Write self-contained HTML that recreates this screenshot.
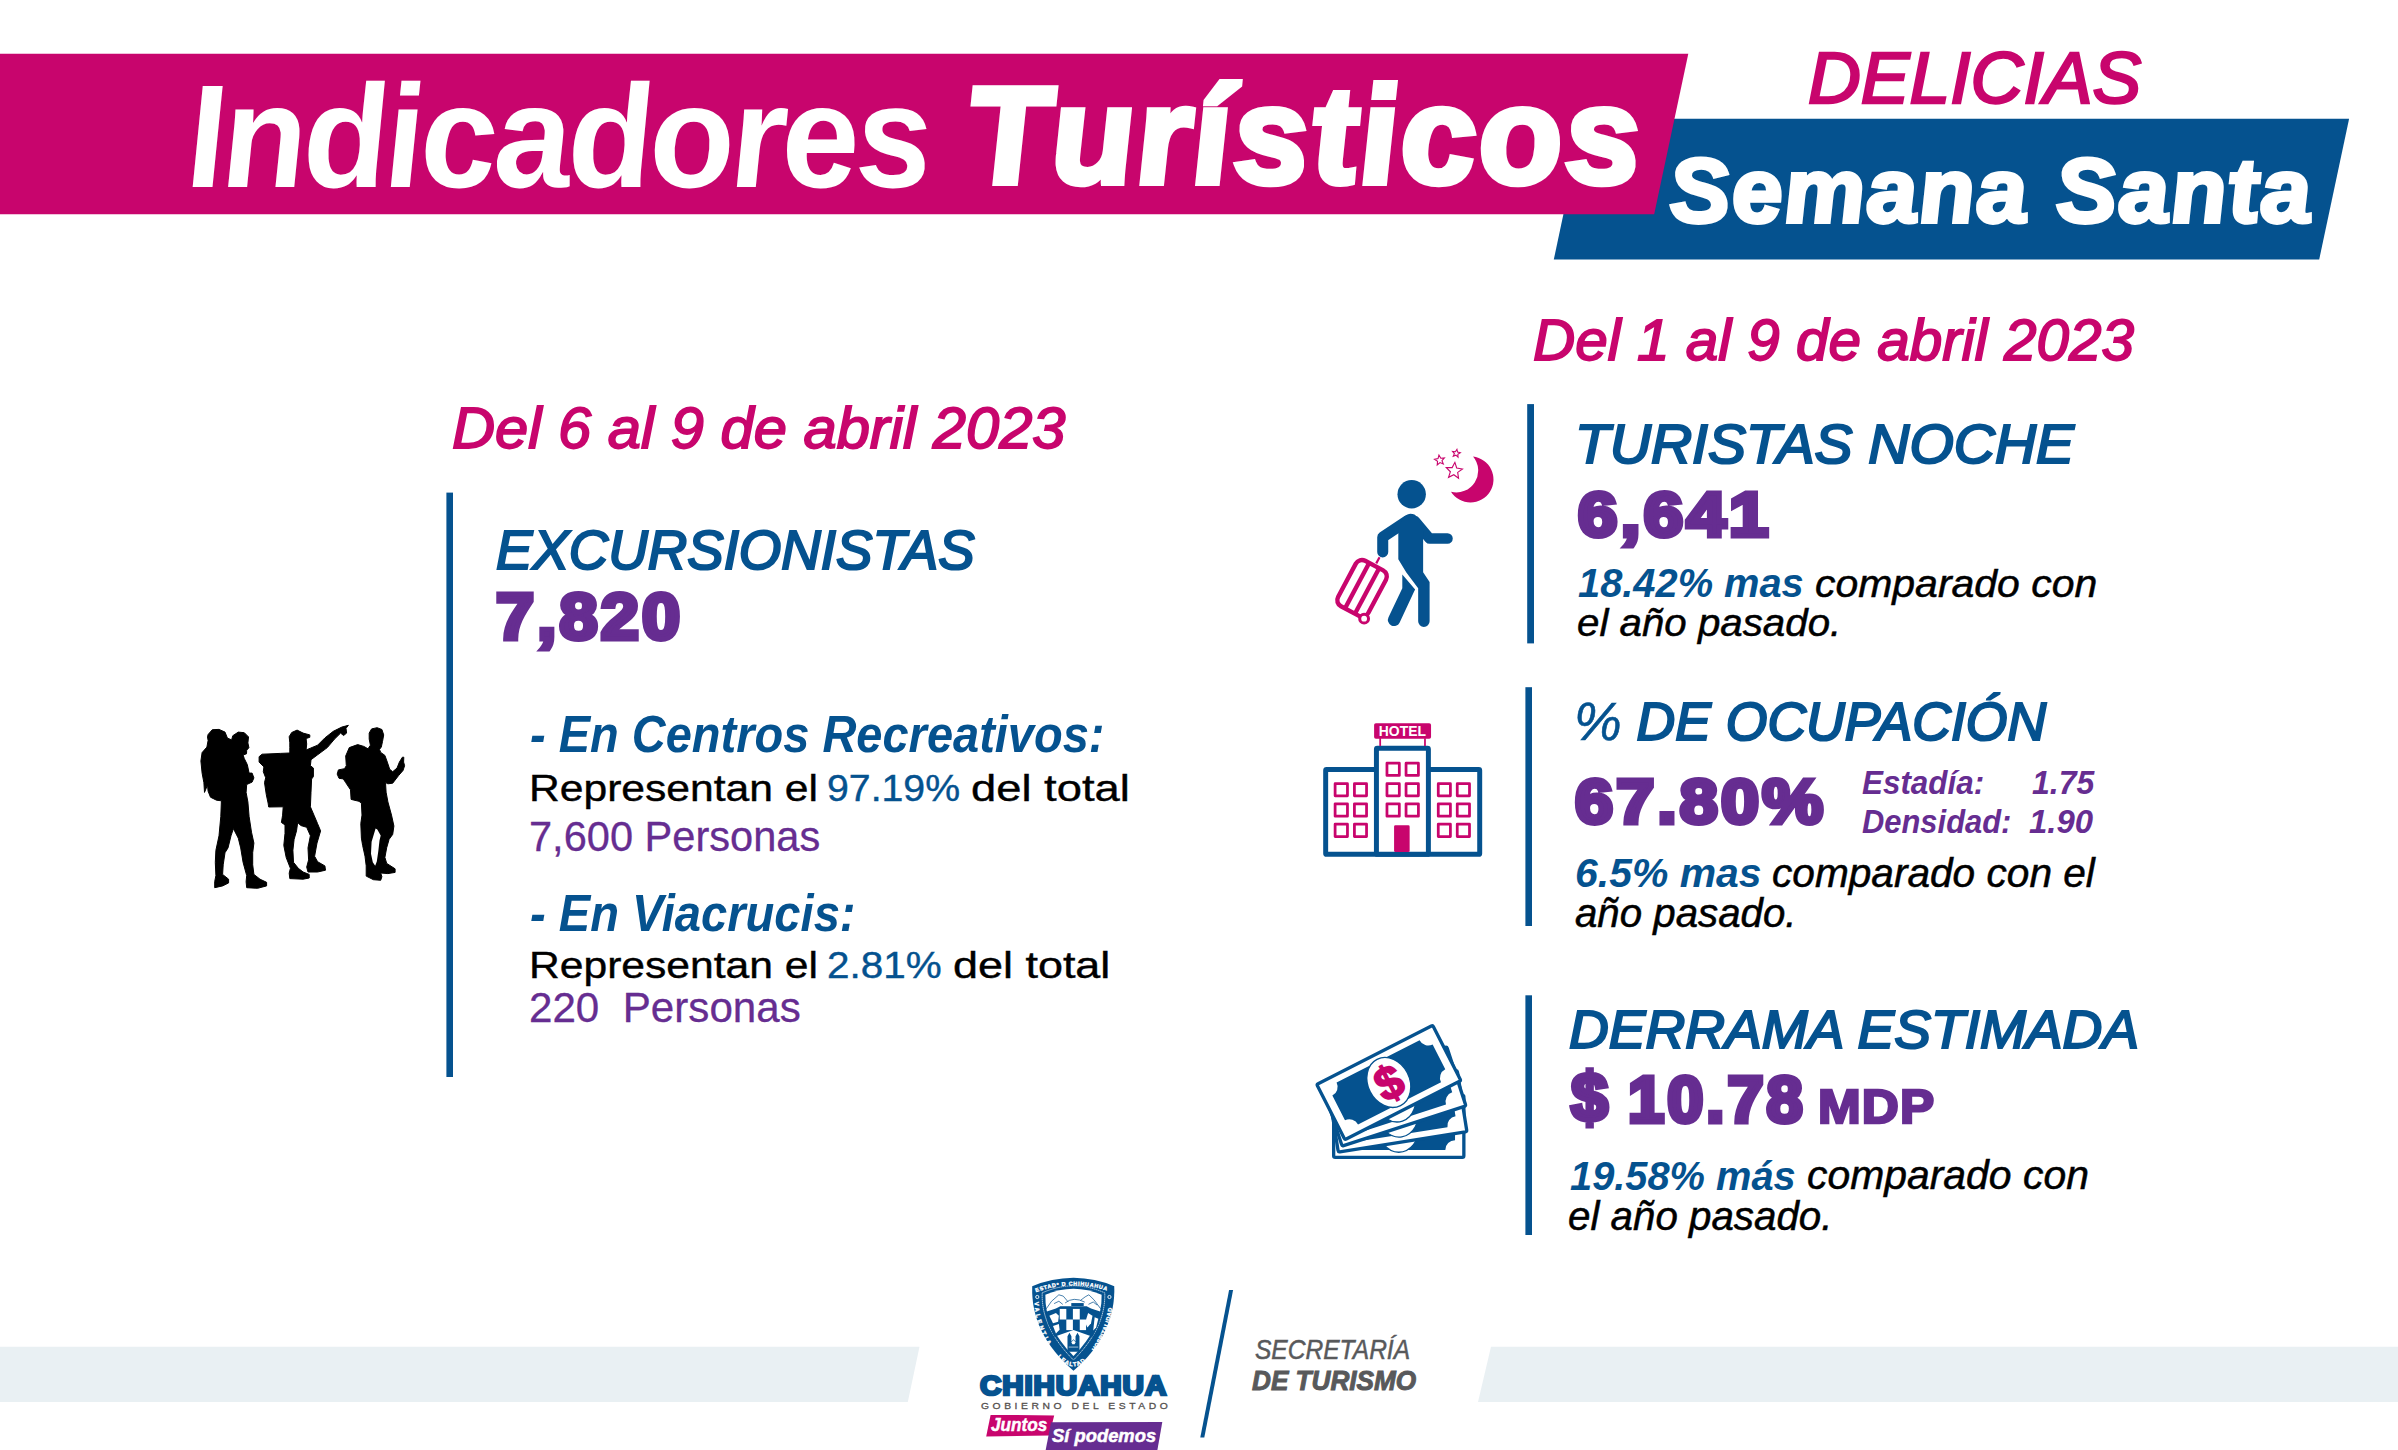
<!DOCTYPE html>
<html lang="es"><head><meta charset="utf-8"><title>Indicadores Turísticos - Delicias - Semana Santa</title>
<style>
html,body{margin:0;padding:0;background:#fff;}
body{width:2398px;height:1450px;position:relative;overflow:hidden;font-family:"Liberation Sans",sans-serif;}
.t{position:absolute;line-height:1;white-space:nowrap;transform-origin:0 0;}
.abs{position:absolute;}
svg{position:absolute;left:0;top:0;overflow:visible;}
</style></head><body>
<svg width="2398" height="1450" viewBox="0 0 2398 1450">
<polygon points="1583.7,118.8 2349.1,118.8 2319.2,259.5 1553.8,259.5" fill="#05528f"/>
<polygon points="0,53.8 1688.3,53.8 1654.2,214.2 0,214.2" fill="#c8056d"/>
<rect x="446.4" y="492.6" width="6.6" height="584.4" fill="#05528f"/>
<rect x="1527.2" y="404.1" width="6.8" height="239.3" fill="#05528f"/>
<rect x="1525.4" y="687.2" width="6.6" height="238.8" fill="#05528f"/>
<rect x="1525.4" y="995.3" width="6.6" height="239.7" fill="#05528f"/>
<polygon points="0,1346.8 919.5,1346.8 907.8,1402 0,1402" fill="#e9f0f3"/>
<polygon points="1491,1346.8 2398,1346.8 2398,1402 1478,1402" fill="#e9f0f3"/>
<polygon points="1229.1,1290 1233.1,1290 1204.3,1437.6 1200.3,1437.6" fill="#05528f"/>
<polygon points="990.6,1414.9 1054.2,1415.4 1049.2,1435.6 986.2,1436.5" fill="#c8056d"/>
<polygon points="1051,1422.3 1162.3,1422.1 1157.4,1450 1045.7,1450" fill="#662d91"/>
</svg>

<svg width="2398" height="1450" viewBox="0 0 2398 1450">
<g fill="#000" stroke="#000" stroke-width="1" stroke-linejoin="round">
<polygon points="208.1,734.5 212.3,729.7 219.0,729.4 225.0,732.1 227.4,738.1 231.6,739.9 232.8,735.7 238.3,732.1 244.3,732.7 248.5,736.9 247.9,742.9 248.9,747.7 246.7,750.2 246.5,753.8 243.1,755.0 244.3,758.6 247.3,764.6 249.1,773.1 252.1,773.1 253.9,777.9 252.1,782.1 246.7,784.5 246.1,792.4 247.9,802.0 249.1,816.5 251.5,832.2 253.9,843.1 252.7,852.7 252.7,864.8 253.9,874.4 260.0,879.2 266.6,882.3 266.6,885.9 257.6,888.3 246.7,887.7 246.1,881.7 246.7,875.6 243.1,862.4 240.7,847.9 238.3,838.2 233.4,828.6 231.0,835.8 228.0,847.9 225.0,852.7 223.2,864.8 222.6,874.4 228.6,879.2 228.6,882.9 222.6,885.9 214.7,887.7 214.7,881.7 215.9,875.6 215.3,862.4 215.9,850.3 219.0,835.8 220.8,816.5 221.4,800.8 216.5,800.2 210.5,797.2 208.1,791.2 207.5,785.1 204.5,792.4 203.9,782.7 202.1,773.1 200.9,761.0 202.1,752.6 206.9,747.1 208.1,740.5 207.5,736.9"/>
<polygon points="289.2,736.7 291.7,732.5 297.1,730.1 303.1,733.1 309.8,734.9 309.8,737.3 306.1,738.5 306.7,744.0 306.1,750.0 310.4,748.2 317.6,745.2 324.9,737.9 333.3,731.3 341.8,727.1 348.4,725.3 346.0,728.3 346.6,733.1 343.6,735.5 340.6,733.1 334.5,739.1 327.3,747.6 317.6,754.8 311.0,759.7 310.4,765.7 313.4,768.1 313.4,776.6 311.6,779.0 311.0,792.3 310.4,806.8 314.0,815.2 317.6,823.7 320.6,830.9 318.8,837.0 317.0,843.0 314.6,856.3 317.6,861.7 324.9,865.9 325.5,870.2 317.6,872.0 308.0,872.0 306.7,867.1 308.6,859.9 308.0,847.8 310.4,835.7 306.7,827.3 300.7,825.5 297.7,822.5 296.5,830.9 294.1,839.4 292.9,850.2 293.5,862.3 298.3,868.3 303.1,872.0 309.2,874.4 309.2,878.0 303.1,879.2 289.8,878.6 289.2,873.2 290.4,868.3 286.2,857.5 283.8,845.4 285.0,833.3 285.0,824.9 281.4,822.5 282.6,815.2 283.2,806.8 268.7,807.0 268.1,803.1 266.3,794.7 264.5,782.6 265.7,777.8 263.3,771.7 263.9,766.9 259.1,762.1 259.1,756.7 262.1,754.2 280.2,753.4 289.8,753.0 289.8,747.6 289.8,742.8"/>
<polygon points="369.2,733.1 371.6,728.9 377.1,727.7 381.9,729.5 383.7,734.9 382.5,741.5 381.3,747.0 379.5,749.4 380.7,752.4 384.9,755.4 387.3,762.1 389.7,769.3 392.7,771.7 397.0,768.1 399.4,762.1 402.4,757.2 403.8,757.2 403.6,762.1 404.6,765.7 403.0,770.5 398.8,775.3 392.7,783.2 387.9,783.8 385.5,782.6 386.1,792.2 387.9,801.9 391.5,815.1 393.9,826.0 392.7,834.4 389.1,839.3 386.7,847.7 384.9,857.4 386.7,863.4 395.1,868.8 395.1,872.4 387.9,873.6 380.7,873.0 381.9,876.7 380.7,880.3 373.4,879.7 366.2,876.1 366.2,865.8 365.0,856.2 362.6,845.3 361.4,838.1 360.8,823.6 362.0,815.1 361.4,803.1 359.0,801.3 351.1,799.4 350.5,789.8 345.7,782.6 343.3,778.9 339.0,778.3 337.2,774.1 338.4,769.9 344.5,768.7 346.3,765.7 345.7,756.0 349.3,747.6 357.7,744.6 363.8,746.4 368.0,748.8 370.4,745.2 369.2,739.1"/>
</g>
<polygon fill="#fff" points="375.6,828.4 371.6,841.7 371.0,853.7 372.8,862.2 375.2,865.8 376.8,861.6 378.3,851.3 379.5,840.5 380.7,835.6 377.3,829.6"/>

<g transform="translate(1320,440) scale(0.13787)">
<circle cx="665" cy="393" r="103" fill="#05528f"/>
<g fill="none" stroke="#05528f" stroke-linecap="round" stroke-linejoin="round">
<polyline points="635,585 455,705 455,812" stroke-width="80"/>
<polyline points="690,590 795,715 925,715" stroke-width="76"/>
</g>
<path d="M568,640 L568,865 L625,960 L712,1075 L712,1315 A41.5,41.5 0 0 0 795,1315 L795,1030 L748,960 L748,660 L705,560 Q690,535 655,535 Q620,540 600,570 Z" fill="#05528f"/>
<path d="M597,975 L597,1075 L497,1285 A44,44 0 0 0 577,1325 L680,1105 L690,1085 Z" fill="#05528f"/>
<line x1="408" y1="895" x2="432" y2="850" stroke="#c8056d" stroke-width="16"/>
<g transform="translate(305,1076) rotate(28)" fill="none" stroke="#c8056d" stroke-width="32">
<rect x="-124" y="-187" width="248" height="374" rx="50"/>
<line x1="-41" y1="-187" x2="-41" y2="187"/><line x1="41" y1="-187" x2="41" y2="187"/>
</g>
<circle cx="320" cy="1296" r="32" fill="#fff" stroke="#c8056d" stroke-width="22"/>
<path d="M1110,120 A167,167 0 1 1 950,375 A158,158 0 0 0 1110,120 Z" fill="#c8056d"/>
<g fill="none" stroke="#c8056d" stroke-width="8" stroke-linejoin="miter">
<polygon points="862.7,109.4 876.0,131.9 902.2,130.3 884.8,150.0 894.4,174.3 870.4,163.9 850.2,180.6 852.6,154.5 830.6,140.4 856.1,134.7"/>
<polygon points="993.2,67.5 997.7,87.6 1017.7,92.8 999.9,103.3 1001.2,124.0 985.7,110.3 966.4,117.8 974.6,98.9 961.5,82.9 982.1,84.9"/>
<polygon points="978.4,162.2 991.3,202.9 1033.4,210.1 998.7,234.9 1004.9,277.1 970.6,251.8 932.3,270.8 945.8,230.3 915.9,199.8 958.6,200.1"/>
</g>
</g>
<g transform="translate(1310,710) scale(0.11034)">
<rect x="142" y="540" width="1396" height="768" rx="8" fill="#fff" stroke="#05528f" stroke-width="45" stroke-linejoin="round"/>
<rect x="602" y="347" width="471" height="961" rx="8" fill="#fff" stroke="#05528f" stroke-width="45" stroke-linejoin="round"/>
<g stroke="#c8056d" stroke-width="16"><line x1="636" y1="255" x2="636" y2="326"/><line x1="1042" y1="255" x2="1042" y2="326"/></g>
<rect x="581" y="119" width="516" height="142" rx="16" fill="#c8056d"/>
<text x="837.5" y="236" text-anchor="middle" font-family="'Liberation Sans',sans-serif" font-weight="bold" font-size="135" fill="#fff" textLength="428" lengthAdjust="spacingAndGlyphs">HOTEL</text>
<g fill="#fff" stroke="#c8056d" stroke-width="25" stroke-linejoin="round"><rect x="697.5" y="482.5" width="112" height="110"/><rect x="697.5" y="667.5" width="112" height="110"/><rect x="697.5" y="850.5" width="112" height="112"/><rect x="870.5" y="482.5" width="112" height="110"/><rect x="870.5" y="667.5" width="112" height="110"/><rect x="870.5" y="850.5" width="112" height="112"/><rect x="227.5" y="667.5" width="112" height="110"/><rect x="227.5" y="850.5" width="112" height="112"/><rect x="227.5" y="1034.5" width="112" height="113"/><rect x="402.5" y="667.5" width="110" height="110"/><rect x="402.5" y="850.5" width="110" height="112"/><rect x="402.5" y="1034.5" width="110" height="113"/><rect x="1162.5" y="667.5" width="110" height="110"/><rect x="1162.5" y="850.5" width="110" height="112"/><rect x="1162.5" y="1034.5" width="110" height="113"/><rect x="1334.5" y="667.5" width="111" height="110"/><rect x="1334.5" y="850.5" width="111" height="112"/><rect x="1334.5" y="1034.5" width="111" height="113"/></g>
<rect x="762" y="1045" width="141" height="242" rx="12" fill="#c8056d"/>
</g>
<g transform="translate(1300,1010) scale(0.11034)">
<g transform="rotate(0 22 1043)"><rect x="305" y="773" width="1180" height="562" rx="14" fill="#fff" stroke="#05528f" stroke-width="30" stroke-linejoin="round"/><path d="M473,840 L1317,840 A88,88 0 0 0 1405,928 L1405,1180 A88,88 0 0 0 1317,1268 L473,1268 A88,88 0 0 0 385,1180 L385,928 A88,88 0 0 0 473,840 Z" fill="#05528f"/><ellipse cx="895" cy="1054" rx="189" ry="235" fill="#fff" stroke="#05528f" stroke-width="12"/></g><g transform="rotate(-9 22 1043)"><rect x="305" y="773" width="1180" height="562" rx="14" fill="#fff" stroke="#05528f" stroke-width="30" stroke-linejoin="round"/><path d="M473,840 L1317,840 A88,88 0 0 0 1405,928 L1405,1180 A88,88 0 0 0 1317,1268 L473,1268 A88,88 0 0 0 385,1180 L385,928 A88,88 0 0 0 473,840 Z" fill="#05528f"/><ellipse cx="895" cy="1054" rx="189" ry="235" fill="#fff" stroke="#05528f" stroke-width="12"/></g><g transform="rotate(-18 22 1043)"><rect x="305" y="773" width="1180" height="562" rx="14" fill="#fff" stroke="#05528f" stroke-width="30" stroke-linejoin="round"/><path d="M473,840 L1317,840 A88,88 0 0 0 1405,928 L1405,1180 A88,88 0 0 0 1317,1268 L473,1268 A88,88 0 0 0 385,1180 L385,928 A88,88 0 0 0 473,840 Z" fill="#05528f"/><ellipse cx="895" cy="1054" rx="189" ry="235" fill="#fff" stroke="#05528f" stroke-width="12"/></g><g transform="rotate(-27 22 1043)"><rect x="305" y="773" width="1180" height="562" rx="14" fill="#fff" stroke="#05528f" stroke-width="30" stroke-linejoin="round"/><path d="M473,840 L1317,840 A88,88 0 0 0 1405,928 L1405,1180 A88,88 0 0 0 1317,1268 L473,1268 A88,88 0 0 0 385,1180 L385,928 A88,88 0 0 0 473,840 Z" fill="#05528f"/><ellipse cx="895" cy="1054" rx="189" ry="235" fill="#fff" stroke="#05528f" stroke-width="12"/><text x="895" y="1203" text-anchor="middle" font-family="'Liberation Sans',sans-serif" font-weight="bold" font-size="425" fill="#c8056d" stroke="#c8056d" stroke-width="16">$</text></g>
</g>
<g transform="translate(1015,1272) scale(0.07310)">
<path id="shO" d="M235,195 Q500,85 800,80 Q1100,85 1358,195 C1372,620 1200,1010 800,1350 C400,1010 222,620 235,195 Z" fill="#05528f"/>
<path d="M372,285 Q590,190 800,188 Q1010,190 1228,285 C1238,620 1090,910 800,1205 C510,910 362,620 372,285 Z" fill="none" stroke="#fff" stroke-width="9" stroke-dasharray="22 7"/>
<path d="M415,312 Q600,232 800,230 Q1000,232 1185,312 C1192,620 1065,880 800,1150 C535,880 408,620 415,312 Z" fill="#fff"/>
<g fill="none" stroke="#05528f" stroke-width="10" stroke-linejoin="round" stroke-linecap="round">
<polyline points="430,500 500,400 600,312 660,330 720,400"/>
<polyline points="900,385 960,340 1010,312 1080,380 1170,500"/>
<path d="M690,420 Q800,330 950,410"/>
<polyline points="540,430 600,400 650,440"/><polyline points="1010,440 1070,410 1120,450"/>
</g>
<rect x="770" y="425" width="170" height="40" fill="#05528f"/>
<path d="M425,545 L560,500 L620,470 L980,470 L1040,500 L1175,545 L1150,700 L1062,885 L800,792 L538,885 L450,700 Z" fill="#05528f"/>
<rect x="612" y="505" width="90" height="145" fill="#fff"/><rect x="792" y="505" width="94" height="145" fill="#fff"/><rect x="702" y="650" width="90" height="145" fill="#fff"/><rect x="886" y="650" width="86" height="145" fill="#fff"/>
<g fill="#fff">
<path d="M470,600 L560,560 L600,600 L590,680 L520,700 Z"/><path d="M520,740 L600,710 L610,790 L560,840 Z"/>
<path d="M1000,560 L1060,600 L1040,700 L990,760 L960,690 Z"/><path d="M1090,620 L1140,640 L1110,760 L1070,800 Z"/>
</g>
<g fill="#05528f">
<path d="M718,1090 L718,880 L745,830 L772,880 L772,950 L800,920 L828,950 L828,880 L855,830 L882,880 L882,1090 Z"/>
</g>
<path d="M770,960 L800,930 L830,960 L815,990 L785,990 Z" fill="#fff"/>
<rect x="735" y="1020" width="130" height="14" fill="#fff" opacity="0.6"/>
<circle cx="305" cy="342" r="22" fill="none" stroke="#fff" stroke-width="12"/>
<circle cx="1292" cy="342" r="22" fill="none" stroke="#fff" stroke-width="12"/>
<path id="tpTop" d="M288,276 Q540,182 800,184 Q1060,182 1312,276" fill="none"/>
<path id="tpL" d="M266,410 C276,640 345,852 494,1068" fill="none"/>
<path id="tpB" d="M560,1140 Q800,1440 1040,1140" fill="none"/>
<path id="tpR" d="M1094,1092 C1256,852 1328,640 1336,410" fill="none"/>
<text font-family="'Liberation Sans',sans-serif" font-weight="bold" fill="#fff" stroke="#fff" stroke-width="5" text-rendering="geometricPrecision" font-size="74" letter-spacing="10"><textPath href="#tpTop">ESTADº D CHIHUAHUA</textPath></text>
<text font-family="'Liberation Sans',sans-serif" font-weight="bold" fill="#fff" stroke="#fff" stroke-width="5" text-rendering="geometricPrecision" font-size="82" letter-spacing="32"><textPath href="#tpL">VALENTIA</textPath></text>
<text font-family="'Liberation Sans',sans-serif" font-weight="bold" fill="#fff" stroke="#fff" stroke-width="5" text-rendering="geometricPrecision" font-size="80" letter-spacing="14"><textPath href="#tpB" startOffset="30">LEALTAD</textPath></text>
<text font-family="'Liberation Sans',sans-serif" font-weight="bold" fill="#fff" stroke="#fff" stroke-width="5" text-rendering="geometricPrecision" font-size="80" letter-spacing="5"><textPath href="#tpR">HOSPITALIDAD</textPath></text>
</g>
</svg>

<div class="t" id="indic" style="left:179.5px;top:62.5px;font-size:146.8px;color:#ffffff;transform:scaleX(0.9394) skewX(5deg);font-weight:bold;font-style:italic;letter-spacing:-3px;">Indicadores</div>
<div class="t" id="turis" style="left:961.4px;top:67.3px;font-size:137.9px;color:#ffffff;transform:scaleX(0.9843) skewX(5deg);font-weight:bold;font-style:italic;-webkit-text-stroke:6px #ffffff;letter-spacing:3px;">Turísticos</div>
<div class="t" id="delicias" style="left:1807.8px;top:42.1px;font-size:72.8px;color:#c8056d;transform:scaleX(1.0048);font-style:italic;-webkit-text-stroke:2.5px #c8056d;">DELICIAS</div>
<div class="t" id="semana" style="left:1664.8px;top:144.8px;font-size:91.0px;color:#ffffff;transform:scaleX(0.9957) skewX(5deg);font-weight:bold;font-style:italic;-webkit-text-stroke:4px #ffffff;letter-spacing:2px;">Semana Santa</div>
<div class="t" id="del1" style="left:1533.4px;top:310.7px;font-size:58.1px;color:#c8056d;transform:scaleX(1.0059);font-style:italic;-webkit-text-stroke:1.8px #c8056d;">Del 1 al 9 de abril 2023</div>
<div class="t" id="del6" style="left:452.4px;top:398.7px;font-size:58.1px;color:#c8056d;transform:scaleX(1.0268);font-style:italic;-webkit-text-stroke:1.8px #c8056d;">Del 6 al 9 de abril 2023</div>
<div class="t" id="excur" style="left:496.3px;top:523.4px;font-size:54.9px;color:#05528f;transform:scaleX(0.9952);font-style:italic;-webkit-text-stroke:2.2px #05528f;">EXCURSIONISTAS</div>
<div class="t" id="n7820" style="left:495.5px;top:584.9px;font-size:64.2px;color:#662d91;transform:scaleX(1.0665);font-weight:bold;-webkit-text-stroke:5px #662d91;letter-spacing:3px;">7,820</div>
<div class="t" id="centros" style="left:530.1px;top:709.4px;font-size:51.7px;color:#05528f;transform:scaleX(0.9091);font-weight:bold;font-style:italic;">- En Centros Recreativos:</div>
<div class="t" id="rep1a" style="left:529.3px;top:770.3px;font-size:37.2px;color:#000000;transform:scaleX(1.1453);-webkit-text-stroke:0.4px #000000;">Representan el</div>
<div class="t" id="rep1b" style="left:826.5px;top:770.3px;font-size:37.2px;color:#05528f;transform:scaleX(1.0548);-webkit-text-stroke:0.4px #05528f;">97.19%</div>
<div class="t" id="rep1c" style="left:970.5px;top:770.3px;font-size:37.2px;color:#000000;transform:scaleX(1.2189);-webkit-text-stroke:0.4px #000000;">del total</div>
<div class="t" id="per1" style="left:528.8px;top:815.9px;font-size:41.7px;color:#662d91;transform:scaleX(0.9972);-webkit-text-stroke:0.3px #662d91;">7,600 Personas</div>
<div class="t" id="viac" style="left:529.6px;top:887.7px;font-size:51.5px;color:#05528f;transform:scaleX(0.9148);font-weight:bold;font-style:italic;">- En Viacrucis:</div>
<div class="t" id="rep2a" style="left:529.3px;top:946.5px;font-size:37.2px;color:#000000;transform:scaleX(1.1453);-webkit-text-stroke:0.4px #000000;">Representan el</div>
<div class="t" id="rep2b" style="left:826.7px;top:946.5px;font-size:37.2px;color:#05528f;transform:scaleX(1.0883);-webkit-text-stroke:0.4px #05528f;">2.81%</div>
<div class="t" id="rep2c" style="left:953.2px;top:946.5px;font-size:37.2px;color:#000000;transform:scaleX(1.2079);-webkit-text-stroke:0.4px #000000;">del total</div>
<div class="t" id="per2" style="left:529.3px;top:987.2px;font-size:41.7px;color:#662d91;transform:scaleX(1.0109);-webkit-text-stroke:0.3px #662d91;">220&nbsp; Personas</div>
<div class="t" id="turn" style="left:1574.6px;top:417.0px;font-size:54.8px;color:#05528f;transform:scaleX(1.0397);font-style:italic;-webkit-text-stroke:2.2px #05528f;">TURISTAS NOCHE</div>
<div class="t" id="n6641" style="left:1577.5px;top:482.6px;font-size:62.8px;color:#662d91;transform:scaleX(1.1259);font-weight:bold;-webkit-text-stroke:5px #662d91;letter-spacing:3px;">6,641</div>
<div class="t" id="cmp1a" style="left:1578.4px;top:563.1px;font-size:40.6px;color:#05528f;transform:scaleX(0.9811);font-weight:bold;font-style:italic;">18.42% mas</div>
<div class="t" id="cmp1c" style="left:1814.8px;top:564.1px;font-size:39.2px;color:#000000;transform:scaleX(1.0448);font-style:italic;-webkit-text-stroke:0.5px #000000;">comparado con</div>
<div class="t" id="cmp1b" style="left:1577.1px;top:603.4px;font-size:39.2px;color:#000000;transform:scaleX(1.0278);font-style:italic;-webkit-text-stroke:0.5px #000000;">el año pasado.</div>
<div class="t" id="ocup" style="left:1574.2px;top:695.3px;font-size:54.5px;color:#05528f;transform:scaleX(0.9826);font-style:italic;-webkit-text-stroke:2.2px #05528f;"><span style="-webkit-text-stroke:0.6px #05528f">%</span> DE OCUPACIÓN</div>
<div class="t" id="n6780" style="left:1575.0px;top:769.3px;font-size:63.7px;color:#662d91;transform:scaleX(1.0733);font-weight:bold;-webkit-text-stroke:5px #662d91;letter-spacing:3px;">67.80%</div>
<div class="t" id="estadia" style="left:1861.8px;top:765.7px;font-size:33.0px;color:#662d91;transform:scaleX(0.9516);font-weight:bold;font-style:italic;">Estadía:</div>
<div class="t" id="v175" style="left:2032.3px;top:765.7px;font-size:33.0px;color:#662d91;transform:scaleX(0.9683);font-weight:bold;font-style:italic;">1.75</div>
<div class="t" id="densidad" style="left:1862.4px;top:805.9px;font-size:32.6px;color:#662d91;transform:scaleX(0.9484);font-weight:bold;font-style:italic;">Densidad:</div>
<div class="t" id="v190" style="left:2029.1px;top:805.9px;font-size:32.6px;color:#662d91;transform:scaleX(1.0097);font-weight:bold;font-style:italic;">1.90</div>
<div class="t" id="cmp2a" style="left:1574.9px;top:853.1px;font-size:41.4px;color:#05528f;transform:scaleX(0.9886);font-weight:bold;font-style:italic;">6.5% mas</div>
<div class="t" id="cmp2c" style="left:1772.3px;top:854.2px;font-size:39.8px;color:#000000;transform:scaleX(1.0206);font-style:italic;-webkit-text-stroke:0.5px #000000;">comparado con el</div>
<div class="t" id="cmp2b" style="left:1575.3px;top:894.2px;font-size:39.8px;color:#000000;transform:scaleX(1.0108);font-style:italic;-webkit-text-stroke:0.5px #000000;">año pasado.</div>
<div class="t" id="derr" style="left:1569.2px;top:1002.8px;font-size:53.8px;color:#05528f;transform:scaleX(1.0234);font-style:italic;-webkit-text-stroke:2.2px #05528f;">DERRAMA ESTIMADA</div>
<div class="t" id="dollar" style="left:1571.1px;top:1063.7px;font-size:68.5px;color:#662d91;transform:scaleX(0.9714);font-weight:bold;-webkit-text-stroke:5px #662d91;">$</div>
<div class="t" id="n1078" style="left:1627.5px;top:1067.5px;font-size:64.2px;color:#662d91;transform:scaleX(1.0117);font-weight:bold;-webkit-text-stroke:5px #662d91;letter-spacing:3px;">10.78</div>
<div class="t" id="mdp" style="left:1818.0px;top:1082.9px;font-size:47.4px;color:#662d91;transform:scaleX(1.0819);font-weight:bold;-webkit-text-stroke:2.5px #662d91;letter-spacing:1px;">MDP</div>
<div class="t" id="cmp3a" style="left:1569.6px;top:1155.5px;font-size:40.8px;color:#05528f;transform:scaleX(0.9755);font-weight:bold;font-style:italic;">19.58% más</div>
<div class="t" id="cmp3c" style="left:1807.3px;top:1156.1px;font-size:39.8px;color:#000000;transform:scaleX(1.0276);font-style:italic;-webkit-text-stroke:0.5px #000000;">comparado con</div>
<div class="t" id="cmp3b" style="left:1567.8px;top:1196.0px;font-size:40.0px;color:#000000;transform:scaleX(1.0078);font-style:italic;-webkit-text-stroke:0.5px #000000;">el año pasado.</div>
<div class="t" id="chih" style="left:980.1px;top:1372.9px;font-size:26.9px;color:#05528f;transform:scaleX(1.1006);font-weight:bold;-webkit-text-stroke:2.6px #05528f;letter-spacing:0.8px;">CHIHUAHUA</div>
<div class="t" id="gob" style="left:980.9px;top:1401.9px;font-size:9.3px;color:#55514f;transform:scaleX(1.1107);-webkit-text-stroke:0.3px #55514f;letter-spacing:3.2px;">GOBIERNO DEL ESTADO</div>
<div class="t" id="juntos" style="left:991.0px;top:1415.9px;font-size:18.9px;color:#ffffff;transform:scaleX(0.9082);font-weight:bold;font-style:italic;-webkit-text-stroke:0.5px #ffffff;">Juntos</div>
<div class="t" id="sipod" style="left:1052.3px;top:1426.8px;font-size:18.3px;color:#ffffff;transform:scaleX(1.0049);font-weight:bold;font-style:italic;-webkit-text-stroke:0.5px #ffffff;">Sí podemos</div>
<div class="t" id="secre" style="left:1255.1px;top:1335.8px;font-size:27.2px;color:#58595b;transform:scaleX(0.9030);font-style:italic;-webkit-text-stroke:0.5px #58595b;">SECRETARÍA</div>
<div class="t" id="detur" style="left:1252.0px;top:1367.4px;font-size:27.3px;color:#58595b;transform:scaleX(0.9579);font-weight:bold;font-style:italic;-webkit-text-stroke:1.0px #58595b;">DE TURISMO</div>
</body></html>
